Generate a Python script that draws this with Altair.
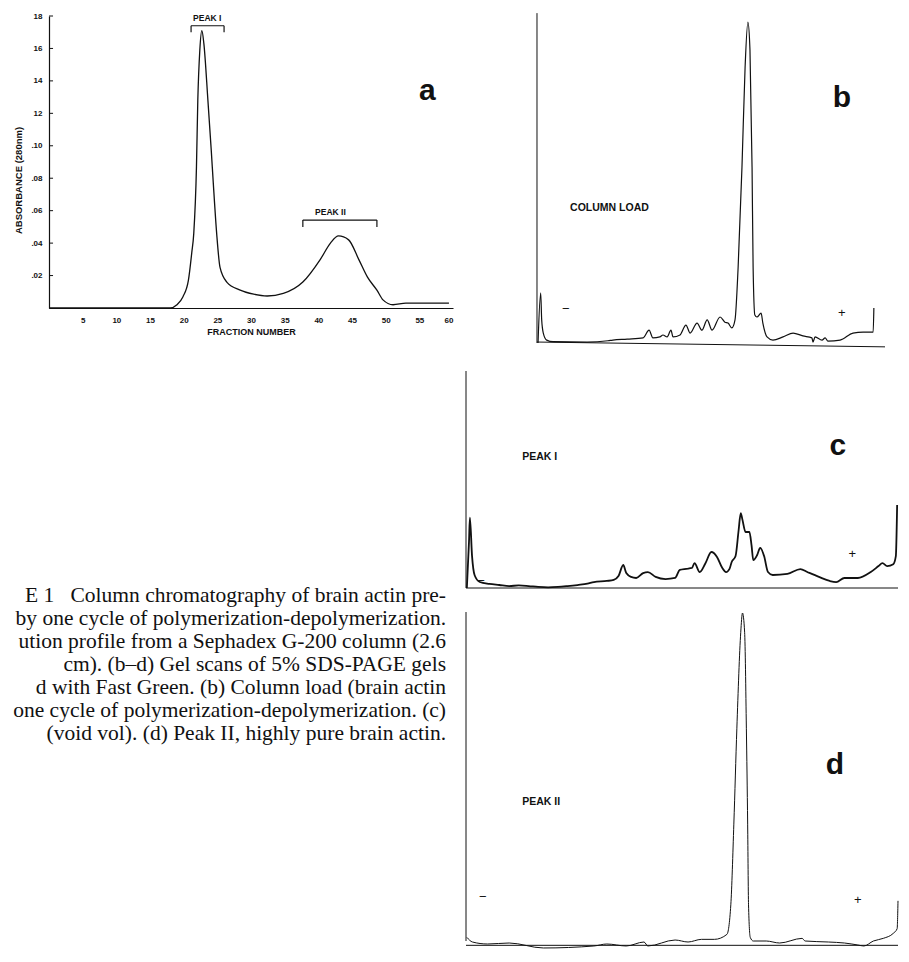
import altair as alt
import pandas as pd

# ---------------- panel a : elution profile ----------------
a_fraction = [0, 5, 10, 15, 18, 19.0, 19.9, 20.7, 21.2, 21.5, 21.9, 22.1, 22.4, 22.7, 23.0,
              23.6, 24.1, 24.4, 24.9, 25.4, 26.4, 28.4, 30.4, 32.4, 34.8, 37.7, 40.3, 41.8,
              43.0, 44.5, 46.0, 47.3, 48.7, 49.6, 51.1, 53, 56, 59.4]
a_absorbance = [0, 0, 0, 0, 0, 0.002, 0.007, 0.017, 0.034, 0.046, 0.087, 0.128, 0.159, 0.171,
                0.163, 0.128, 0.097, 0.077, 0.046, 0.025, 0.016, 0.011, 0.0085, 0.0074, 0.009,
                0.016, 0.030, 0.040, 0.0444, 0.042, 0.030, 0.019, 0.011, 0.005, 0.002, 0.003,
                0.003, 0.003]
a_ytick_values = [0.02, 0.04, 0.06, 0.08, 0.10, 0.12, 0.14, 0.16, 0.18]
a_ytick_labels = [".02", ".04", ".06", ".08", ".10", "12", "14", "16", "18"]
a_xtick_values = [5, 10, 15, 20, 25, 30, 35, 40, 45, 50, 55, 60]
peak_names = ["PEAK I", "PEAK II"]
peak_label_x = [23.5, 41.8]
peak_label_y = [0.1785, 0.059]
bracket_start = [21.1, 37.7]
bracket_end = [26.0, 48.7]
bracket_top = [0.174, 0.0542]
bracket_foot = [0.170, 0.050]

caption_lines = [
    "E 1\u00a0\u00a0 Column chromatography of brain actin pre-",
    "by one cycle of polymerization-depolymerization.",
    "ution profile from a Sephadex G-200 column (2.6",
    "cm). (b\u2013d) Gel scans of 5% SDS-PAGE gels",
    "d with Fast Green. (b) Column load (brain actin",
    "one cycle of polymerization-depolymerization. (c)",
    "(void vol). (d) Peak II, highly pure brain actin.",
]
caption_line_no = [0, 1, 2, 3, 4, 5, 6]

# ---------------- panels b-d : gel scans (arbitrary units) ----------------
b_pos = [0.3, 1.06, 1.35, 1.81, 2.79, 4.6, 14.4, 20.4, 21.8, 25.9, 30.5, 32.2, 33.3, 35.3, 36.2,
         37.4, 38.5, 39.1, 41.1, 42.8, 44.0, 46.0, 47.4, 48.9, 50.3, 52.6, 54.0, 54.9, 56.0, 56.9,
         57.8, 58.9, 59.8, 60.6, 61.2, 61.8, 62.1, 62.6, 63.2, 64.4, 64.9, 66.1, 67.8, 70.7, 73.6,
         76.4, 79.0, 79.3, 79.9, 81.9, 82.8, 83.6, 87.1, 90.8, 93.7, 96.6, 96.8]
b_val = [0, 15.6, 7.2, 3.1, 0.9, 0.4, 0.3, 0.7, 0.9, 1.2, 1.6, 4.0, 1.6, 1.9, 2.5, 1.9, 4.0, 1.9,
         2.5, 5.6, 3.1, 6.2, 4.0, 7.2, 4.0, 8.1, 6.5, 6.2, 4.7, 7.2, 23.7, 54.8, 86.0, 100, 91.3,
         54.8, 23.7, 8.7, 8.1, 9.3, 6.2, 1.9, 0.9, 1.9, 3.1, 2.2, 1.6, 0.3, 1.9, 0.9, 1.6, 0.6,
         0.9, 3.1, 3.4, 3.4, 10.9]

c_pos = [0.2, 0.7, 0.9, 1.4, 2.0, 3.2, 5.4, 7.7, 10.0, 12.2, 14.5, 16.7, 19.0, 21.3, 23.5, 25.8,
         28.1, 29.6, 32.6, 34.2, 35.3, 36.4, 37.1, 38.2, 39.4, 41.0, 42.1, 43.9, 46.2, 48.4, 49.5,
         51.0, 52.3, 52.9, 54.1, 55.4, 56.8, 58.1, 59.3, 60.2, 61.0, 61.5, 62.4, 63.1, 63.6, 64.0,
         64.7, 65.6, 66.1, 66.5, 67.4, 68.1, 69.0, 69.9, 71.0, 74.4, 77.4, 79.0, 81.7, 84.2, 85.7,
         87.6, 90.7, 93.7, 95.5, 96.4, 97.5, 98.9, 99.5, 99.8]
c_val = [0, 22, 33, 15, 6, 2.8, 1.9, 1.4, 0.9, 1.2, 0.9, 0.5, 0.3, 0.5, 0.9, 1.4, 2.0, 2.8, 3.3,
         3.8, 5.6, 10.8, 7.0, 5.2, 4.7, 7.0, 7.5, 5.2, 4.2, 4.7, 8.5, 9.0, 9.4, 11.7, 7.5, 11.5,
         16.9, 14.6, 9.5, 7.5, 9.0, 12.2, 15.0, 27, 35.2, 32, 26.3, 26.3, 20, 13.1, 15.5, 18.8,
         15, 7.5, 6.1, 6.6, 8.9, 7.5, 5.2, 3.3, 2.8, 4.7, 4.7, 7.5, 10.3, 11.7, 10.3, 11.2, 15, 39]

d_pos = [0.2, 1.5, 5, 10, 17.9, 29.6, 32.6, 37.1, 41.2, 42.1, 48.4, 51.4, 54.5, 57.5, 60.4, 61.3,
         62.0, 62.7, 63.6, 64.0, 64.5, 64.9, 65.2, 65.4, 65.8, 66.5, 69.5, 72.6, 77.8, 78.5, 83.9,
         87.6, 90.7, 92.1, 94.3, 96.6, 98.9, 99.8, 100]
d_val = [2.0, 0.6, 0.0, 0.3, -1.2, -0.6, 0.0, -0.6, 0.6, -0.6, 1.2, 0.6, 1.4, 1.4, 2.9, 11.8,
         36.1, 65.0, 93.9, 99.7, 93.9, 65.0, 36.1, 11.8, 2.0, 0.9, 0.9, 0.3, 1.7, 0.9, 0.6, 0.3,
         -0.3, -0.6, 0.9, 1.7, 3.2, 4.6, 13]

# scan frames: left line (pos, bottom, top) and baseline (start, end, level at start, level at end)
b_frame = {"line": [0, 0, 102.8], "base": [0, 100, 0.3, -1.2]}
c_frame = {"line": [0, 0, 101.9], "base": [0, 100, 0, 0]}
d_frame = {"line": [0, 0.9, 100], "base": [0, 100, -0.4, -0.4]}

b_labels = ["COLUMN LOAD", "\u2212", "+"]
b_label_x = [9.5, 8.3, 87.6]
b_label_y = [42, 10.6, 9.3]
c_labels = ["PEAK I", "\u2212", "+"]
c_label_x = [13.0, 3.5, 89.4]
c_label_y = [61.5, 3.3, 16]
d_labels = ["PEAK II", "\u2212", "+"]
d_label_x = [13.0, 3.9, 90.7]
d_label_y = [42.8, 14.2, 13.3]
panel_letters = ["b", "c", "d"]
letter_x = [87.6, 86.1, 85.4]
letter_y = [76.3, 66.7, 53.9]

BLACK = "#111111"
SANS = "Liberation Sans"

# ---------------- build panel a ----------------
a_df = pd.DataFrame({"fraction": a_fraction, "absorbance": a_absorbance})
label_expr = "".join(
    f"datum.value == {v} ? '{t}' : " for v, t in zip(a_ytick_values, a_ytick_labels)
) + "''"

xs = alt.Scale(domain=[0, 60], nice=False, zero=False)
ys = alt.Scale(domain=[0, 0.18], nice=False, zero=False)

x_axis = alt.Axis(values=a_xtick_values, tickSize=0, labelPadding=8, labelFont=SANS,
                  labelFontSize=8, labelFontWeight="bold", title="FRACTION  NUMBER",
                  titleFont=SANS, titleFontSize=9, titleFontWeight="bold",
                  titlePadding=3, domainColor=BLACK, domainWidth=1.2, grid=False,
                  labelColor=BLACK, titleColor=BLACK)
y_axis = alt.Axis(values=a_ytick_values, labelExpr=label_expr, tickSize=0,
                  labelPadding=7, labelFont=SANS, labelFontSize=8,
                  labelFontWeight="bold", title="ABSORBANCE  (280nm)", titleFont=SANS,
                  titleFontSize=9.5, titleFontWeight="bold", titleX=-31, titleY=164,
                  titleAngle=270, titleAlign="center", titleBaseline="middle",
                  domainColor=BLACK, domainWidth=1.2, grid=False, labelColor=BLACK,
                  titleColor=BLACK)


def ax(field):
    return alt.X(field, scale=xs, axis=x_axis, title="FRACTION  NUMBER")


def ay(field):
    return alt.Y(field, scale=ys, axis=y_axis, title="ABSORBANCE  (280nm)")


curve = alt.Chart(a_df).mark_line(color=BLACK, strokeWidth=1.3, interpolate="monotone").encode(
    x=ax("fraction:Q"), y=ay("absorbance:Q"))

tick_df = pd.DataFrame({"v": a_ytick_values, "x0": [0] * len(a_ytick_values),
                        "x1": [0.6] * len(a_ytick_values)})
inner_ticks = alt.Chart(tick_df).mark_rule(color=BLACK, strokeWidth=1).encode(
    x=ax("x0:Q"), x2="x1:Q", y=ay("v:Q"))

br_df = pd.DataFrame({"s": bracket_start, "e": bracket_end, "t": bracket_top, "f": bracket_foot})
br_h = alt.Chart(br_df).mark_rule(color=BLACK, strokeWidth=1.2).encode(
    x=ax("s:Q"), x2="e:Q", y=ay("t:Q"))
br_l = alt.Chart(br_df).mark_rule(color=BLACK, strokeWidth=1.2).encode(
    x=ax("s:Q"), y=ay("t:Q"), y2="f:Q")
br_r = alt.Chart(br_df).mark_rule(color=BLACK, strokeWidth=1.2).encode(
    x=ax("e:Q"), y=ay("t:Q"), y2="f:Q")

pk_df = pd.DataFrame({"name": peak_names, "x": peak_label_x, "y": peak_label_y})
pk_text = alt.Chart(pk_df).mark_text(font=SANS, fontSize=8.5, fontWeight="bold", color=BLACK,
                                     baseline="middle").encode(
    x=ax("x:Q"), y=ay("y:Q"), text="name:N")

a_letter_df = pd.DataFrame({"t": ["a"], "x": [56.2], "y": [0.134]})
a_letter = alt.Chart(a_letter_df).mark_text(font=SANS, fontSize=30, fontWeight="bold",
                                            color=BLACK, baseline="middle").encode(
    x=ax("x:Q"), y=ay("y:Q"), text="t:N")

panel_a = alt.layer(curve, inner_ticks, br_h, br_l, br_r, pk_text, a_letter)

# caption lines sit below the elution plot: line units, 23 px per line, first line 580 px down
cap_df = pd.DataFrame({"line": caption_line_no, "text": caption_lines,
                       "edge": [1] * len(caption_lines)})
caption = alt.Chart(cap_df).mark_text(font="Liberation Serif", fontSize=21.5, color=BLACK,
                                      align="right", baseline="middle").encode(
    x=alt.X("edge:Q", scale=alt.Scale(domain=[0, 1.0176], nice=False, zero=False), axis=None),
    y=alt.Y("line:Q", scale=alt.Scale(domain=[-25.22, -12.52], nice=False, zero=False,
                                      reverse=True), axis=None),
    text="text:N")

left = alt.layer(panel_a, caption).resolve_scale(x="independent", y="independent").properties(
    width=404, height=292)


# ---------------- scan panels ----------------
def scan_panel(pos, val, frame, labels, lx, ly, letter, letx, lety, xdom, ydom, w, h, sw):
    sx = alt.Scale(domain=xdom, nice=False, zero=False)
    sy = alt.Scale(domain=ydom, nice=False, zero=False)
    tr = pd.DataFrame({"pos": pos, "val": val})
    trace = alt.Chart(tr).mark_line(color=BLACK, strokeWidth=sw, interpolate="monotone").encode(
        x=alt.X("pos:Q", scale=sx, axis=None), y=alt.Y("val:Q", scale=sy, axis=None))
    ln = frame["line"]
    line_df = pd.DataFrame({"x": [ln[0]], "y0": [ln[1]], "y1": [ln[2]]})
    vline = alt.Chart(line_df).mark_rule(color=BLACK, strokeWidth=1).encode(
        x=alt.X("x:Q", scale=sx, axis=None), y=alt.Y("y0:Q", scale=sy, axis=None), y2="y1:Q")
    bs = frame["base"]
    base_df = pd.DataFrame({"x0": [bs[0]], "x1": [bs[1]], "y0": [bs[2]], "y1": [bs[3]]})
    bline = alt.Chart(base_df).mark_rule(color=BLACK, strokeWidth=1).encode(
        x=alt.X("x0:Q", scale=sx, axis=None), x2="x1:Q",
        y=alt.Y("y0:Q", scale=sy, axis=None), y2="y1:Q")
    lab_df = pd.DataFrame({"t": labels, "x": lx, "y": ly})
    word = alt.Chart(lab_df.iloc[[0]]).mark_text(font=SANS, fontSize=10.5, fontWeight="bold",
                                                 color=BLACK, align="left",
                                                 baseline="middle").encode(
        x=alt.X("x:Q", scale=sx, axis=None), y=alt.Y("y:Q", scale=sy, axis=None), text="t:N")
    signs = alt.Chart(lab_df.iloc[1:]).mark_text(font=SANS, fontSize=13, color=BLACK,
                                                 baseline="middle").encode(
        x=alt.X("x:Q", scale=sx, axis=None), y=alt.Y("y:Q", scale=sy, axis=None), text="t:N")
    let_df = pd.DataFrame({"t": [letter], "x": [letx], "y": [lety]})
    big = alt.Chart(let_df).mark_text(font=SANS, fontSize=30, fontWeight="bold", color=BLACK,
                                      baseline="middle").encode(
        x=alt.X("x:Q", scale=sx, axis=None), y=alt.Y("y:Q", scale=sy, axis=None), text="t:N")
    return alt.layer(vline, bline, trace, word, signs, big).properties(width=w, height=h)


panel_b = scan_panel(b_pos, b_val, b_frame, b_labels, b_label_x, b_label_y, panel_letters[0],
                     letter_x[0], letter_y[0], [-20.4, 100], [0, 101.9], 419, 327, 1.2)
panel_c = scan_panel(c_pos, c_val, c_frame, c_labels, c_label_x, c_label_y, panel_letters[1],
                     letter_x[1], letter_y[1], [0, 100], [0, 101.9], 432, 217, 1.8)
panel_d = scan_panel(d_pos, d_val, d_frame, d_labels, d_label_x, d_label_y, panel_letters[2],
                     letter_x[2], letter_y[2], [0, 100], [0, 98.8], 432, 328, 1.0)

right = alt.vconcat(panel_b, panel_c, panel_d, spacing=28, bounds="flush")

chart = alt.hconcat(left, right, spacing=13, bounds="flush").properties(
    padding={"left": 5, "top": 4, "right": 0, "bottom": 0}
).configure(
    background="white",
    view=alt.ViewConfig(stroke="transparent", strokeWidth=0),
)

chart.save("out.html", embed_options={"renderer": "svg", "actions": False})
